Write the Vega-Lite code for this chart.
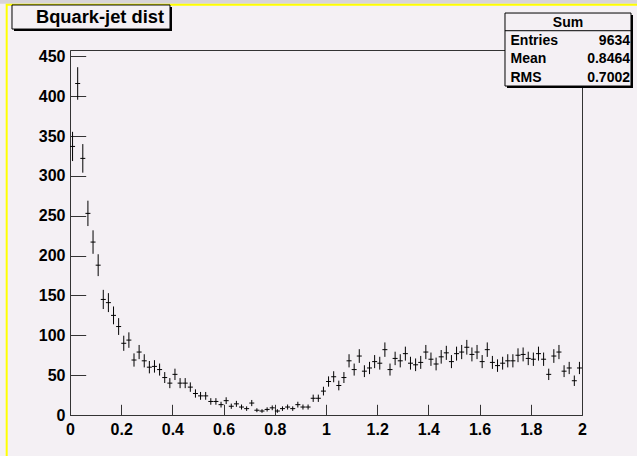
{
  "$schema": "https://vega.github.io/schema/vega-lite/v6.json",
  "width": 512,
  "height": 365,
  "autosize": {"type": "none"},
  "padding": {"left": 70, "top": 50, "right": 55, "bottom": 41},
  "background": "#F4F0F4",
  "config": {
    "view": {"stroke": "#333333", "strokeWidth": 1},
    "font": "Liberation Sans"
  },
  "data": {"values": [
    {"x":0.01,"n":337,"e":18.36},{"x":0.03,"n":416,"e":20.40},{"x":0.05,"n":322,"e":17.94},{"x":0.07,"n":253,"e":15.91},{"x":0.09,"n":217,"e":14.73},
    {"x":0.11,"n":188,"e":13.71},{"x":0.13,"n":145,"e":12.04},{"x":0.15,"n":141,"e":11.87},{"x":0.17,"n":125,"e":11.18},{"x":0.19,"n":111,"e":10.54},
    {"x":0.21,"n":90,"e":9.49},{"x":0.23,"n":94,"e":9.70},{"x":0.25,"n":69,"e":8.31},{"x":0.27,"n":79,"e":8.89},{"x":0.29,"n":68,"e":8.25},
    {"x":0.31,"n":60,"e":7.75},{"x":0.33,"n":61,"e":7.81},{"x":0.35,"n":57,"e":7.55},{"x":0.37,"n":47,"e":6.86},{"x":0.39,"n":40,"e":6.32},
    {"x":0.41,"n":51,"e":7.14},{"x":0.43,"n":40,"e":6.32},{"x":0.45,"n":40,"e":6.32},{"x":0.47,"n":35,"e":5.92},{"x":0.49,"n":27,"e":5.20},
    {"x":0.51,"n":24,"e":4.90},{"x":0.53,"n":24,"e":4.90},{"x":0.55,"n":17,"e":4.12},{"x":0.57,"n":17,"e":4.12},{"x":0.59,"n":13,"e":3.61},
    {"x":0.61,"n":18,"e":4.24},{"x":0.63,"n":11,"e":3.32},{"x":0.65,"n":14,"e":3.74},{"x":0.67,"n":10,"e":3.16},{"x":0.69,"n":8,"e":2.83},
    {"x":0.71,"n":15,"e":3.87},{"x":0.73,"n":6,"e":2.45},{"x":0.75,"n":5,"e":2.24},{"x":0.77,"n":7,"e":2.65},{"x":0.79,"n":9,"e":3.00},
    {"x":0.81,"n":5,"e":2.24},{"x":0.83,"n":8,"e":2.83},{"x":0.85,"n":10,"e":3.16},{"x":0.87,"n":8,"e":2.83},{"x":0.89,"n":13,"e":3.61},
    {"x":0.91,"n":10,"e":3.16},{"x":0.93,"n":10,"e":3.16},{"x":0.95,"n":21,"e":4.58},{"x":0.97,"n":21,"e":4.58},{"x":0.99,"n":30,"e":5.48},
    {"x":1.01,"n":42,"e":6.48},{"x":1.03,"n":48,"e":6.93},{"x":1.05,"n":37,"e":6.08},{"x":1.07,"n":47,"e":6.86},{"x":1.09,"n":68,"e":8.25},
    {"x":1.11,"n":57,"e":7.55},{"x":1.13,"n":74,"e":8.60},{"x":1.15,"n":55,"e":7.42},{"x":1.17,"n":59,"e":7.68},{"x":1.19,"n":67,"e":8.19},
    {"x":1.21,"n":65,"e":8.06},{"x":1.23,"n":82,"e":9.06},{"x":1.25,"n":57,"e":7.55},{"x":1.27,"n":71,"e":8.43},{"x":1.29,"n":68,"e":8.25},
    {"x":1.31,"n":77,"e":8.77},{"x":1.33,"n":65,"e":8.06},{"x":1.35,"n":63,"e":7.94},{"x":1.37,"n":66,"e":8.12},{"x":1.39,"n":79,"e":8.89},
    {"x":1.41,"n":70,"e":8.37},{"x":1.43,"n":64,"e":8.00},{"x":1.45,"n":73,"e":8.54},{"x":1.47,"n":78,"e":8.83},{"x":1.49,"n":67,"e":8.19},
    {"x":1.51,"n":77,"e":8.77},{"x":1.53,"n":79,"e":8.89},{"x":1.55,"n":85,"e":9.22},{"x":1.57,"n":76,"e":8.72},{"x":1.59,"n":79,"e":8.89},
    {"x":1.61,"n":67,"e":8.19},{"x":1.63,"n":82,"e":9.06},{"x":1.65,"n":66,"e":8.12},{"x":1.67,"n":62,"e":7.87},{"x":1.69,"n":65,"e":8.06},
    {"x":1.71,"n":68,"e":8.25},{"x":1.73,"n":68,"e":8.25},{"x":1.75,"n":75,"e":8.66},{"x":1.77,"n":76,"e":8.72},{"x":1.79,"n":71,"e":8.43},
    {"x":1.81,"n":70,"e":8.37},{"x":1.83,"n":77,"e":8.77},{"x":1.85,"n":70,"e":8.37},{"x":1.87,"n":51,"e":7.14},{"x":1.89,"n":74,"e":8.60},
    {"x":1.91,"n":79,"e":8.89},{"x":1.93,"n":55,"e":7.42},{"x":1.95,"n":59,"e":7.68},{"x":1.97,"n":43,"e":6.56},{"x":1.99,"n":59,"e":7.68}
  ]},
  "layer": [
    {
      "data": {"values": [{}]},
      "mark": {"type": "rect", "fill": "#D8D4D8", "stroke": null},
      "encoding": {
        "x": {"datum": -1, "type": "quantitative"},
        "x2": {"datum": 3},
        "y": {"datum": 516.0, "type": "quantitative"},
        "y2": {"datum": 560}
      }
    },
    {
      "data": {"values": [{}]},
      "mark": {"type": "rect", "fill": null, "stroke": "#FFFF00", "strokeWidth": 2},
      "encoding": {
        "x": {"datum": -0.2473, "type": "quantitative"},
        "x2": {"datum": 3},
        "y": {"datum": 514.8, "type": "quantitative"},
        "y2": {"datum": -100}
      }
    },
    {
      "data": {"values": [{}]},
      "mark": {"type": "rect", "fill": "#000000"},
      "encoding": {
        "x": {"datum": -0.2188, "type": "quantitative"},
        "x2": {"datum": 0.3984},
        "y": {"datum": 512.0, "type": "quantitative"},
        "y2": {"datum": 481.8}
      }
    },
    {
      "data": {"values": [{}]},
      "mark": {"type": "rect", "fill": "#F4F0F4", "stroke": "#000000", "strokeWidth": 1},
      "encoding": {
        "x": {"datum": -0.2266, "type": "quantitative"},
        "x2": {"datum": 0.3906},
        "y": {"datum": 514.5, "type": "quantitative"},
        "y2": {"datum": 484.3}
      }
    },
    {
      "data": {"values": [{"t": "Bquark-jet dist"}]},
      "mark": {"type": "text", "align": "left", "baseline": "alphabetic", "fontSize": 18.3, "fontWeight": "bold", "color": "#000000", "font": "Liberation Sans"},
      "encoding": {
        "x": {"datum": -0.1328, "type": "quantitative"},
        "y": {"datum": 492.3, "type": "quantitative"},
        "text": {"field": "t"}
      }
    },
    {
      "mark": {"type": "errorbar", "color": "#000000", "thickness": 1},
      "encoding": {
        "x": {
          "field": "x", "type": "quantitative",
          "scale": {"domain": [0, 2], "nice": false, "zero": false},
          "axis": {
            "title": null,
            "values": [0,0.05,0.1,0.15,0.2,0.25,0.3,0.35,0.4,0.45,0.5,0.55,0.6,0.65,0.7,0.75,0.8,0.85,0.9,0.95,1,1.05,1.1,1.15,1.2,1.25,1.3,1.35,1.4,1.45,1.5,1.55,1.6,1.65,1.7,1.75,1.8,1.85,1.9,1.95,2],
            "labelExpr": "round(datum.value*100) % 20 === 0 ? format(datum.value, '~g') : ''",
            "tickSize": {"condition": {"test": "round(datum.value*100) % 20 === 0", "value": -10.7}, "value": -5.7},
            "labelPadding": 17.5,
            "grid": false,
            "domainColor": "#333333",
            "tickColor": "#333333",
            "labelColor": "#000000",
            "labelFont": "Liberation Sans",
            "labelFontSize": 16,
            "labelFontWeight": "bold",
            "labelFlush": false,
            "labelOverlap": false,
            "labelBound": false
          }
        },
        "y": {
          "field": "n", "type": "quantitative",
          "scale": {"domain": [0, 458], "nice": false, "zero": true},
          "axis": {
            "title": null,
            "values": [0,25,50,75,100,125,150,175,200,225,250,275,300,325,350,375,400,425,450],
            "labelExpr": "datum.value % 50 === 0 ? format(datum.value, 'd') : ''",
            "tickSize": {"condition": {"test": "datum.value % 50 === 0", "value": -15.7}, "value": -7.7},
            "labelPadding": 20.7,
            "grid": false,
            "domainColor": "#333333",
            "tickColor": "#333333",
            "labelColor": "#000000",
            "labelFont": "Liberation Sans",
            "labelFontSize": 16,
            "labelFontWeight": "bold",
            "labelFlush": false,
            "labelOverlap": false,
            "labelBound": false
          }
        },
        "yError": {"field": "e"}
      }
    },
    {
      "mark": {"type": "tick", "orient": "horizontal", "size": 5, "thickness": 1, "color": "#000000", "opacity": 1},
      "encoding": {
        "x": {"field": "x", "type": "quantitative"},
        "y": {"field": "n", "type": "quantitative"}
      }
    },
    {
      "data": {"values": [{}]},
      "mark": {"type": "rect", "fill": "#000000"},
      "encoding": {
        "x": {"datum": 1.707, "type": "quantitative"},
        "x2": {"datum": 2.1992},
        "y": {"datum": 501.9, "type": "quantitative"},
        "y2": {"datum": 410.3}
      }
    },
    {
      "data": {"values": [{}]},
      "mark": {"type": "rect", "fill": "#F4F0F4", "stroke": "#000000", "strokeWidth": 1},
      "encoding": {
        "x": {"datum": 1.6992, "type": "quantitative"},
        "x2": {"datum": 2.1914},
        "y": {"datum": 504.4, "type": "quantitative"},
        "y2": {"datum": 412.8}
      }
    },
    {
      "data": {"values": [{}]},
      "mark": {"type": "rule", "color": "#000000", "strokeWidth": 1},
      "encoding": {
        "x": {"datum": 1.6992, "type": "quantitative"},
        "x2": {"datum": 2.1914},
        "y": {"datum": 482.2, "type": "quantitative"}
      }
    },
    {
      "data": {"values": [{"t": "Sum"}]},
      "mark": {"type": "text", "align": "center", "baseline": "alphabetic", "fontSize": 14, "fontWeight": "bold", "color": "#000000", "font": "Liberation Sans"},
      "encoding": {
        "x": {"datum": 1.9453, "type": "quantitative"},
        "y": {"datum": 486.9, "type": "quantitative"},
        "text": {"field": "t"}
      }
    },
    {
      "data": {"values": [{"k": "Entries", "v": "9634", "yy": 464.3}, {"k": "Mean", "v": "0.8464", "yy": 441.3}, {"k": "RMS", "v": "0.7002", "yy": 418.1}]},
      "layer": [
        {
          "mark": {"type": "text", "align": "left", "baseline": "alphabetic", "fontSize": 14, "fontWeight": "bold", "color": "#000000", "font": "Liberation Sans"},
          "encoding": {
            "x": {"datum": 1.7207, "type": "quantitative"},
            "y": {"field": "yy", "type": "quantitative"},
            "text": {"field": "k"}
          }
        },
        {
          "mark": {"type": "text", "align": "right", "baseline": "alphabetic", "fontSize": 14, "fontWeight": "bold", "color": "#000000", "font": "Liberation Sans"},
          "encoding": {
            "x": {"datum": 2.1875, "type": "quantitative"},
            "y": {"field": "yy", "type": "quantitative"},
            "text": {"field": "v"}
          }
        }
      ]
    }
  ]
}
